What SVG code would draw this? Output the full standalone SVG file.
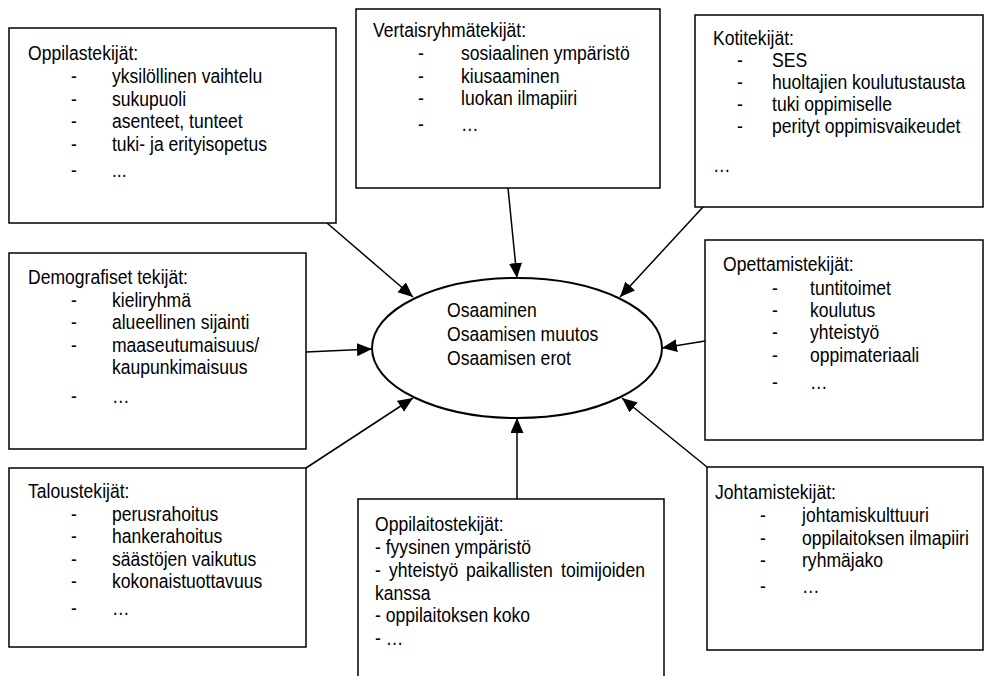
<svg xmlns="http://www.w3.org/2000/svg" width="991" height="676" viewBox="0 0 991 676">
<style>
.box{fill:#fff;stroke:#000;stroke-width:1.5}
.ell{fill:#fff;stroke:#000;stroke-width:2}
.t{font-family:"Liberation Sans",Arial,sans-serif;font-size:19.5px;fill:#000}
.c{fill:none;stroke:#000;stroke-width:1.5}
</style>
<defs>
<marker id="ah" markerUnits="userSpaceOnUse" markerWidth="16" markerHeight="14" refX="15" refY="6.5" orient="auto">
<path d="M0,0 L15,6.5 L0,13 z" fill="#000"/>
</marker>
</defs>
<rect width="991" height="676" fill="#fff"/>

<g id="connectors">
<line class="c" x1="327" y1="223" x2="413" y2="297" marker-end="url(#ah)"/>
<line class="c" x1="508" y1="188" x2="517" y2="278" marker-end="url(#ah)"/>
<line class="c" x1="703" y1="207" x2="620" y2="297" marker-end="url(#ah)"/>
<line class="c" x1="306" y1="352" x2="372" y2="349" marker-end="url(#ah)"/>
<line class="c" x1="705" y1="341" x2="662" y2="348" marker-end="url(#ah)"/>
<line class="c" x1="306" y1="468" x2="413" y2="398" marker-end="url(#ah)"/>
<line class="c" x1="517" y1="499" x2="517" y2="418" marker-end="url(#ah)"/>
<line class="c" x1="707" y1="467" x2="622" y2="398" marker-end="url(#ah)"/>
</g>

<g id="oppilastekijat">
<rect class="box" x="9" y="28" width="327" height="195"/>
<text class="t" transform="translate(28 0) scale(0.9 1)"><tspan x="0" y="60">Oppilastekijät:</tspan><tspan x="47.8" y="83">-</tspan><tspan x="93.3" y="83">yksilöllinen vaihtelu</tspan><tspan x="47.8" y="106">-</tspan><tspan x="93.3" y="106">sukupuoli</tspan><tspan x="47.8" y="128">-</tspan><tspan x="93.3" y="128">asenteet, tunteet</tspan><tspan x="47.8" y="151">-</tspan><tspan x="93.3" y="151">tuki- ja erityisopetus</tspan><tspan x="47.8" y="177">-</tspan><tspan x="93.3" y="177">...</tspan></text>
</g>

<g id="vertaisryhmatekijat">
<rect class="box" x="356" y="9" width="304" height="179"/>
<text class="t" transform="translate(373 0) scale(0.9 1)"><tspan x="0" y="37">Vertaisryhmätekijät:</tspan><tspan x="50" y="60">-</tspan><tspan x="97.8" y="60">sosiaalinen ympäristö</tspan><tspan x="50" y="83">-</tspan><tspan x="97.8" y="83">kiusaaminen</tspan><tspan x="50" y="105">-</tspan><tspan x="97.8" y="105">luokan ilmapiiri</tspan><tspan x="50" y="131">-</tspan><tspan x="97.8" y="131">…</tspan></text>
</g>

<g id="kotitekijat">
<rect class="box" x="695" y="15" width="288" height="192"/>
<text class="t" transform="translate(713 0) scale(0.9 1)"><tspan x="0" y="45">Kotitekijät:</tspan><tspan x="26.7" y="67">-</tspan><tspan x="65.6" y="67">SES</tspan><tspan x="26.7" y="89">-</tspan><tspan x="65.6" y="89">huoltajien koulutustausta</tspan><tspan x="26.7" y="111">-</tspan><tspan x="65.6" y="111">tuki oppimiselle</tspan><tspan x="26.7" y="133">-</tspan><tspan x="65.6" y="133">perityt oppimisvaikeudet</tspan><tspan x="0" y="172">…</tspan></text>
</g>

<g id="demografiset">
<rect class="box" x="9" y="253" width="297" height="196"/>
<text class="t" transform="translate(28 0) scale(0.9 1)"><tspan x="0" y="284">Demografiset tekijät:</tspan><tspan x="47.8" y="307">-</tspan><tspan x="93.3" y="307">kieliryhmä</tspan><tspan x="47.8" y="329">-</tspan><tspan x="93.3" y="329">alueellinen sijainti</tspan><tspan x="47.8" y="352">-</tspan><tspan x="93.3" y="352">maaseutumaisuus/</tspan><tspan x="93.3" y="374">kaupunkimaisuus</tspan><tspan x="47.8" y="403">-</tspan><tspan x="93.3" y="403">…</tspan></text>
</g>

<g id="osaaminen">
<ellipse class="ell" cx="517" cy="348" rx="145" ry="70"/>
<text class="t" transform="translate(447 0) scale(0.9 1)"><tspan x="0" y="317">Osaaminen</tspan><tspan x="0" y="341">Osaamisen muutos</tspan><tspan x="0" y="365">Osaamisen erot</tspan></text>
</g>

<g id="opettamistekijat">
<rect class="box" x="705" y="240" width="278" height="200"/>
<text class="t" transform="translate(723 0) scale(0.9 1)"><tspan x="0" y="271">Opettamistekijät:</tspan><tspan x="54.4" y="295">-</tspan><tspan x="96.7" y="295">tuntitoimet</tspan><tspan x="54.4" y="317">-</tspan><tspan x="96.7" y="317">koulutus</tspan><tspan x="54.4" y="339">-</tspan><tspan x="96.7" y="339">yhteistyö</tspan><tspan x="54.4" y="362">-</tspan><tspan x="96.7" y="362">oppimateriaali</tspan><tspan x="54.4" y="389">-</tspan><tspan x="96.7" y="389">…</tspan></text>
</g>

<g id="taloustekijat">
<rect class="box" x="9" y="468" width="297" height="179"/>
<text class="t" transform="translate(28 0) scale(0.9 1)"><tspan x="0" y="498">Taloustekijät:</tspan><tspan x="47.8" y="521">-</tspan><tspan x="93.3" y="521">perusrahoitus</tspan><tspan x="47.8" y="543">-</tspan><tspan x="93.3" y="543">hankerahoitus</tspan><tspan x="47.8" y="566">-</tspan><tspan x="93.3" y="566">säästöjen vaikutus</tspan><tspan x="47.8" y="588">-</tspan><tspan x="93.3" y="588">kokonaistuottavuus</tspan><tspan x="47.8" y="615">-</tspan><tspan x="93.3" y="615">…</tspan></text>
</g>

<g id="oppilaitostekijat">
<rect class="box" x="358" y="499" width="306" height="185"/>
<text class="t" transform="translate(375 0) scale(0.9 1)"><tspan x="0" y="531">Oppilaitostekijät:</tspan><tspan x="0" y="554">- fyysinen ympäristö</tspan><tspan x="0" y="577">-</tspan><tspan x="15.6" y="577">yhteistyö</tspan><tspan x="101.1" y="577">paikallisten</tspan><tspan x="206.7" y="577">toimijoiden</tspan><tspan x="0" y="600">kanssa</tspan><tspan x="0" y="622">- oppilaitoksen koko</tspan><tspan x="0" y="645">- …</tspan></text>
</g>

<g id="johtamistekijat">
<rect class="box" x="707" y="467" width="276" height="183"/>
<text class="t" transform="translate(715 0) scale(0.9 1)"><tspan x="0" y="499">Johtamistekijät:</tspan><tspan x="50" y="522">-</tspan><tspan x="96.7" y="522">johtamiskulttuuri</tspan><tspan x="50" y="545">-</tspan><tspan x="96.7" y="545">oppilaitoksen ilmapiiri</tspan><tspan x="50" y="567">-</tspan><tspan x="96.7" y="567">ryhmäjako</tspan><tspan x="50" y="593">-</tspan><tspan x="96.7" y="593">…</tspan></text>
</g>
</svg>
